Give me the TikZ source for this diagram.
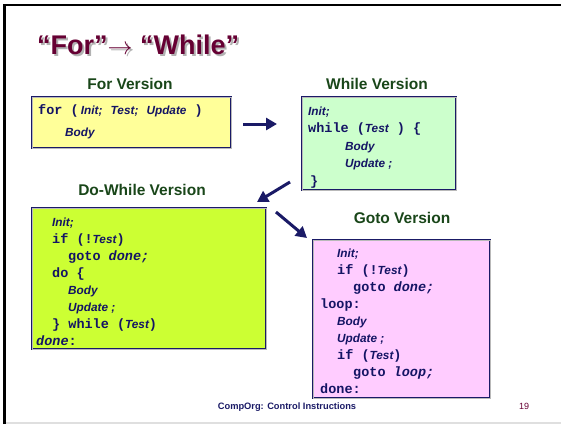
\documentclass[tikz,border=0pt]{standalone}
\usepackage{fontspec}
\setmainfont{Liberation Sans}
\setmonofont{Liberation Mono}
\usetikzlibrary{arrows.meta, positioning}
\usepackage{xcolor}

\definecolor{boxblue}{RGB}{26,26,102}
\definecolor{codeblue}{RGB}{20,20,100}
\definecolor{labelgreen}{RGB}{25,70,25}
\definecolor{titlered}{RGB}{102,0,51}
\definecolor{foryellow}{RGB}{255,255,153}
\definecolor{whilegreen}{RGB}{204,255,204}
\definecolor{dolime}{RGB}{204,255,51}
\definecolor{gotopink}{RGB}{255,204,255}

\newcommand{\codefont}{\ttfamily\bfseries\fontsize{13.5}{17}\selectfont}
\newcommand{\cv}[1]{{\normalfont\bfseries\itshape\fontsize{11.8}{17}\selectfont #1}}

\begin{document}
\begin{tikzpicture}[x=1pt, y=-1pt,
	codebox/.style={draw=boxblue, double=gray!55, double distance=0.8pt, line width=0.9pt, inner sep=0pt, outer sep=0pt, anchor=north west},
	code/.style={anchor=north west, inner sep=0pt, align=left, text=codeblue, font=\codefont},
	version/.style={font=\bfseries\fontsize{15.5}{18}\selectfont, text=labelgreen},
	heading/.style={anchor=west, inner sep=0pt, font=\bfseries\fontsize{27}{30}\selectfont},
	bigarrow/.style={-{Triangle[length=11pt, width=12pt]}, line width=3pt, draw=boxblue}]
	\useasboundingbox (0,0) rectangle (561,424);
	%Slide frame
	\draw[line width=2.5pt] (4.5,424) -- (4.5,5) -- (561,5);
	\draw[gray!25, line width=1.5pt] (6,423) -- (561,423);
	%Title
	\node[heading, text=gray!60] (titleshadow) at (39,47) {“For”$\rightarrow$ “While”};
	\node[heading, text=titlered] (title) at (37,45) {“For”$\rightarrow$ “While”};
	%For version
	\node[version] (forlabel) at (130,84) {For Version};
	\node[codebox, fill=foryellow, minimum width=199, minimum height=51] (forbox) at (32,97) {};
	\node[code] (forcode) at (38,102.6) {\strut for (\,\cv{Init;}~\cv{Test;}~\cv{Update}~)\\[5pt]
		\hspace*{27pt}\cv{Body}};
	%While version
	\node[version] (whilelabel) at (377,84) {While Version};
	\node[codebox, fill=whilegreen, minimum width=154, minimum height=93] (whilebox) at (302,97) {};
	\node[code, font=\ttfamily\bfseries\fontsize{13.5}{17.5}\selectfont] (whilecode) at (308,102.6) {\strut\cv{Init;}\\
		while (\cv{Test}~) \{\\
		\hspace*{37pt}\cv{Body}\\
		\hspace*{37pt}\cv{Update ;}\\
		\hspace*{2pt}\}};
	%Do-While version
	\node[version] (dolabel) at (142,190) {Do-While Version};
	\node[codebox, fill=dolime, minimum width=234, minimum height=141] (dobox) at (32,208) {};
	\node[code] (docode) at (36,214.6) {\strut\hspace*{16pt}\cv{Init;}\\
		\hspace*{16pt}if (!\cv{Test})\\
		\hspace*{32pt}goto \textit{done;}\\
		\hspace*{16pt}do \{\\
		\hspace*{32pt}\cv{Body}\\
		\hspace*{32pt}\cv{Update ;}\\
		\hspace*{16pt}\} while (\cv{Test})\\
		\textit{done}:};
	%Goto version
	\node[version] (gotolabel) at (402,218) {Goto Version};
	\node[codebox, fill=gotopink, minimum width=177, minimum height=158] (gotobox) at (313,240) {};
	\node[code] (gotocode) at (320,245.6) {\strut\hspace*{17pt}\cv{Init;}\\
		\hspace*{17pt}if (!\cv{Test})\\
		\hspace*{33pt}goto \textit{done;}\\
		loop:\\
		\hspace*{17pt}\cv{Body}\\
		\hspace*{17pt}\cv{Update ;}\\
		\hspace*{17pt}if (\cv{Test})\\
		\hspace*{33pt}goto \textit{loop;}\\
		done:};
	%Arrows
	\coordinate (forout) at (243,124);
	\coordinate (whilein) at (277,124);
	\coordinate (whileout) at (290,182);
	\coordinate (doin) at (257,202);
	\coordinate (doout) at (276,212);
	\coordinate (gotoin) at (307,238);
	\draw[bigarrow] (forout) -- (whilein);
	\draw[bigarrow] (whileout) -- (doin);
	\draw[bigarrow] (doout) -- (gotoin);
	%Footer
	\node[font=\bfseries\fontsize{9.3}{11}\selectfont, text=boxblue] (footer) at (287,407) {CompOrg: Control Instructions};
	\node[font=\fontsize{9}{11}\selectfont, text=titlered] (pagenum) at (524,406) {19};
\end{tikzpicture}
\end{document}
